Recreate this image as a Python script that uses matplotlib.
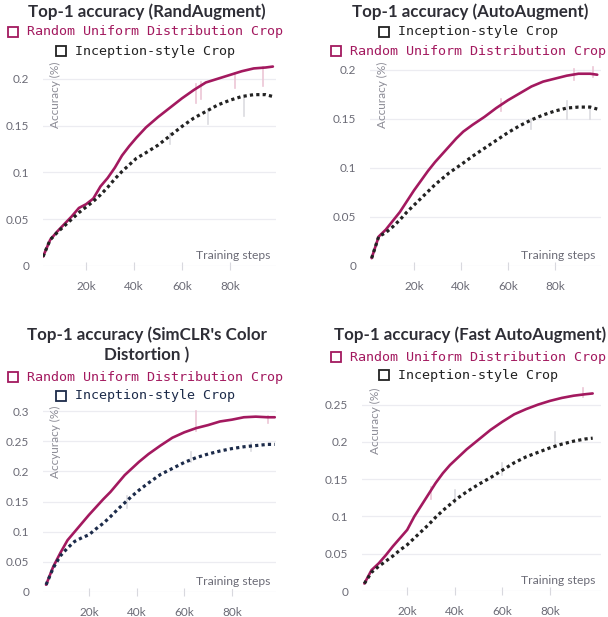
import matplotlib.pyplot as plt
from matplotlib.lines import Line2D

# training steps (thousands) at which the curves were read
steps = [2, 5, 8, 11, 14, 17, 20, 23, 26, 29, 32, 35, 38, 41, 45, 50,
         55, 60, 65, 70, 75, 80, 85, 90, 95, 98]

# RandAugment
ra_uniform = [0.010, 0.028, 0.037, 0.045, 0.053, 0.062, 0.066, 0.072, 0.085, 0.094,
              0.105, 0.118, 0.128, 0.137, 0.148, 0.159, 0.169, 0.179, 0.188, 0.196,
              0.200, 0.204, 0.208, 0.211, 0.212, 0.213]
ra_inception = [0.010, 0.028, 0.036, 0.043, 0.050, 0.057, 0.063, 0.069, 0.076, 0.084,
                0.093, 0.101, 0.108, 0.115, 0.121, 0.129, 0.139, 0.149, 0.158, 0.165,
                0.172, 0.177, 0.181, 0.183, 0.183, 0.181]

# AutoAugment
aa_uniform = [0.008, 0.030, 0.037, 0.046, 0.055, 0.066, 0.077, 0.087, 0.097, 0.106,
              0.114, 0.122, 0.130, 0.137, 0.144, 0.152, 0.161, 0.169, 0.176, 0.183,
              0.188, 0.191, 0.194, 0.196, 0.196, 0.195]
aa_inception = [0.008, 0.030, 0.034, 0.040, 0.047, 0.055, 0.062, 0.069, 0.076, 0.083,
                0.089, 0.095, 0.100, 0.105, 0.112, 0.120, 0.128, 0.136, 0.143, 0.149,
                0.154, 0.158, 0.161, 0.162, 0.162, 0.160]

# SimCLR colour distortion
sc_uniform = [0.012, 0.042, 0.065, 0.086, 0.100, 0.114, 0.128, 0.141, 0.154, 0.166,
              0.180, 0.194, 0.205, 0.216, 0.229, 0.243, 0.256, 0.265, 0.272, 0.277,
              0.283, 0.286, 0.290, 0.291, 0.290, 0.290]
sc_inception = [0.012, 0.040, 0.060, 0.073, 0.084, 0.090, 0.095, 0.105, 0.114, 0.125,
                0.137, 0.148, 0.159, 0.169, 0.181, 0.195, 0.205, 0.215, 0.223, 0.229,
                0.234, 0.238, 0.241, 0.243, 0.245, 0.245]

# Fast AutoAugment
fa_uniform = [0.010, 0.028, 0.037, 0.048, 0.060, 0.071, 0.082, 0.100, 0.115, 0.130,
              0.145, 0.158, 0.169, 0.178, 0.190, 0.203, 0.216, 0.227, 0.237, 0.244,
              0.250, 0.255, 0.259, 0.262, 0.264, 0.265]
fa_inception = [0.010, 0.025, 0.033, 0.040, 0.047, 0.055, 0.062, 0.071, 0.080, 0.089,
                0.099, 0.108, 0.116, 0.124, 0.133, 0.143, 0.152, 0.162, 0.172, 0.180,
                0.186, 0.192, 0.197, 0.201, 0.204, 0.205]

# raw (unsmoothed) excursions: (step, low, high)
ra_uniform_raw = [(66, 0.174, 0.194), (68, 0.178, 0.196), (82, 0.190, 0.206), (94, 0.192, 0.212)]
ra_inception_raw = [(55, 0.130, 0.142), (71, 0.152, 0.167), (86, 0.160, 0.182)]
aa_uniform_raw = [(57, 0.158, 0.170), (88, 0.190, 0.201), (96, 0.193, 0.203)]
aa_inception_raw = [(70, 0.140, 0.150), (85, 0.150, 0.168), (95, 0.150, 0.163)]
sc_uniform_raw = [(65, 0.268, 0.300), (95, 0.280, 0.292)]
sc_inception_raw = [(36, 0.140, 0.160), (63, 0.216, 0.232), (88, 0.234, 0.248)]
fa_uniform_raw = [(30, 0.124, 0.140), (94, 0.260, 0.272)]
fa_inception_raw = [(40, 0.118, 0.135), (60, 0.156, 0.172), (82, 0.193, 0.213)]

UNI = "#a3195f"
INC = "#222222"
NAVY = "#1c2b4a"
GRID = "#ececf1"
TXT = "#6b6b76"

W, H = 608, 617
fig = plt.figure(figsize=(W / 100, H / 100), dpi=100)
legend_items = []


def panel(box, xlim, ylim, yticks, ylabel, uni, inc, uni_raw, inc_raw,
          inc_color, leg_order, title, title_y, leg_y, cx):
    x0, y0, x1, y1 = box
    ax = fig.add_axes([x0 / W, 1 - y1 / H, (x1 - x0) / W, (y1 - y0) / H])
    for k, lo, hi in uni_raw:
        ax.plot([k, k], [lo, hi], color="#ecc6d6", lw=1.2, zorder=2)
    for k, lo, hi in inc_raw:
        ax.plot([k, k], [lo, hi], color="#dcdce0", lw=1.2, zorder=2)
    ax.plot(steps, uni, color=UNI, lw=1.9, solid_capstyle="round", zorder=3)
    ax.plot(steps, inc, color=inc_color, lw=2.3, ls=(0, (1, 1)), zorder=3)
    ax.set_xlim(*xlim)
    ax.set_ylim(*ylim)
    ax.set_yticks(yticks)
    ax.set_yticklabels([("%g" % v) for v in yticks])
    ax.set_xticks([20, 40, 60, 80])
    ax.set_xticklabels(["20k", "40k", "60k", "80k"])
    for s in ax.spines.values():
        s.set_visible(False)
    ax.grid(axis="y", color=GRID, lw=0.9)
    ax.set_axisbelow(True)
    ax.tick_params(axis="y", length=0, pad=10, labelsize=8.5, labelcolor=TXT)
    ax.tick_params(axis="x", length=6, direction="inout", color="#d8d8de",
                   pad=8, labelsize=8.5, labelcolor=TXT)
    ax.text(0.055, 0.99, ylabel, transform=ax.transAxes, rotation=90,
            ha="center", va="top", color="#8c8c96", fontsize=8.5,
            family="Lato")
    ax.text(0.975, 0.025, "Training steps", transform=ax.transAxes,
            ha="right", va="bottom", color=TXT, fontsize=8.7, family="Lato",
            bbox=dict(facecolor="white", edgecolor="none", pad=1))
    for lab in ax.get_xticklabels() + ax.get_yticklabels():
        lab.set_family("Lato")

    for i, ty in enumerate(title_y):
        fig.text(cx / W, 1 - ty / H, title[i], ha="center", va="center",
                 fontsize=12.2, fontweight="bold", color="#2e2e36",
                 family="Lato")
    names = {"u": ("Random Uniform Distribution Crop", UNI),
             "i": ("Inception-style Crop", inc_color)}
    for key, ly in zip(leg_order, leg_y):
        txt, col = names[key]
        s = "  " + txt
        t = fig.text(cx / W, 1 - ly / H, s, ha="center", va="center",
                     fontsize=9.6, color=col, family="DejaVu Sans Mono")
        legend_items.append((t, len(s), col))
    return ax


panel((43, 60, 276, 266), (2.0, 99.3), (0, 0.22), [0, 0.05, 0.1, 0.15, 0.2],
      "Accuracy (%)", ra_uniform, ra_inception, ra_uniform_raw, ra_inception_raw,
      INC, "ui", ["Top-1 accuracy (RandAugment)"], [12], [32, 51], 147)

panel((370, 60, 601, 266), (1.3, 99.6), (0, 0.21), [0, 0.05, 0.1, 0.15, 0.2],
      "Accuracy (%)", aa_uniform, aa_inception, aa_uniform_raw, aa_inception_raw,
      INC, "iu", ["Top-1 accuracy (AutoAugment)"], [12], [32, 51], 470)

panel((43, 404, 276, 592), (0.7, 98.5), (0, 0.312),
      [0, 0.05, 0.1, 0.15, 0.2, 0.25, 0.3],
      "Accyuracy (%)", sc_uniform, sc_inception, sc_uniform_raw, sc_inception_raw,
      NAVY, "ui", ["Top-1 accuracy (SimCLR's Color", "Distortion )"], [335, 355],
      [377, 396], 147)

panel((362, 386, 601, 591), (1.0, 101.5), (0, 0.275),
      [0, 0.05, 0.1, 0.15, 0.2, 0.25],
      "Accuracy (%)", fa_uniform, fa_inception, fa_uniform_raw, fa_inception_raw,
      INC, "ui", ["Top-1 accuracy (Fast AutoAugment)"], [335], [357, 375], 470)

# hollow square legend keys in the first character cell of each label
fig.canvas.draw()
renderer = fig.canvas.get_renderer()
for t, n, col in legend_items:
    bb = t.get_window_extent(renderer)
    kx = bb.x0 + bb.width * 0.3 / n
    ky = bb.y0 + bb.height * 0.5
    fig.add_artist(Line2D([kx / W], [ky / H], transform=fig.transFigure,
                          marker="s", ms=7.6, mfc="none", mec=col, mew=1.3,
                          ls="none"))

fig.savefig("out.png", dpi=100)
